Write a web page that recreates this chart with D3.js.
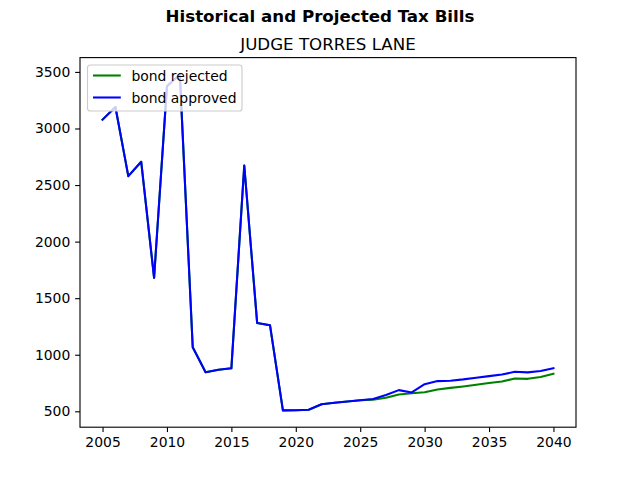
<!DOCTYPE html>
<html>
<head>
<meta charset="utf-8">
<script src="https://cdn.jsdelivr.net/npm/d3@7"></script>
<style>
  body { margin: 0; background: #fff; }
  svg { display: block; font-family: "DejaVu Sans", sans-serif; }
</style>
</head>
<body>
<svg id="chart" width="640" height="480"></svg>
<script>
const years = d3.range(2005, 2041);
const bondRejected = [3078, 3190, 2579, 2706, 1680, 3374, 3478, 1066, 845, 868, 880, 2673, 1281, 1260,
  508, 510, 514, 563, 575, 586, 598, 603, 620, 649, 659, 668, 693, 707, 720, 735, 750, 763, 790, 787, 803, 831];
const bondApproved = [3078, 3190, 2579, 2706, 1680, 3374, 3478, 1066, 845, 868, 880, 2673, 1281, 1260,
  508, 510, 514, 563, 575, 586, 598, 609, 644, 687, 667, 740, 767, 770, 782, 797, 811, 825, 849, 844, 857, 881];
const xTicks = [2005, 2010, 2015, 2020, 2025, 2030, 2035, 2040];
const yTicks = [500, 1000, 1500, 2000, 2500, 3000, 3500];
const seriesNames = ["bond rejected", "bond approved"];
const seriesColors = ["#008000", "#0000ff"];
const suptitle = "Historical and Projected Tax Bills";
const title = "JUDGE TORRES LANE";

const svg = d3.select("#chart");
const L = 80, R = 576, T = 57.6, B = 427.2;

const xmin = d3.min(years), xmax = d3.max(years);
const xpad = (xmax - xmin) * 0.05;
const allVals = bondRejected.concat(bondApproved);
const ymin = d3.min(allVals), ymax = d3.max(allVals);
const ypad = (ymax - ymin) * 0.05;

const x = d3.scaleLinear().domain([xmin - xpad, xmax + xpad]).range([L, R]);
const y = d3.scaleLinear().domain([ymin - ypad, ymax + ypad]).range([B, T]);

const series = [bondRejected, bondApproved];
const line = d3.line().x((d, i) => x(years[i])).y(d => y(d));

svg.append("clipPath").attr("id", "clip").append("rect")
  .attr("x", L).attr("y", T).attr("width", R - L).attr("height", B - T);

const plot = svg.append("g").attr("clip-path", "url(#clip)");
series.forEach((s, k) => {
  plot.append("path").datum(s).attr("d", line)
    .attr("fill", "none").attr("stroke", seriesColors[k])
    .attr("stroke-width", 2.08).attr("stroke-linejoin", "round").attr("stroke-linecap", "square");
});

// axes
const xAxis = d3.axisBottom(x).tickValues(xTicks).tickFormat(d3.format("d"))
  .tickSizeInner(4.86).tickSizeOuter(0).tickPadding(4.86);
const yAxis = d3.axisLeft(y).tickValues(yTicks).tickFormat(d3.format("d"))
  .tickSizeInner(4.86).tickSizeOuter(0).tickPadding(4.86);

const gx = svg.append("g").attr("transform", `translate(0,${B})`).call(xAxis);
const gy = svg.append("g").attr("transform", `translate(${L},0)`).call(yAxis);
[gx, gy].forEach(g => {
  g.select(".domain").remove();
  g.selectAll(".tick line").attr("stroke", "#000").attr("stroke-width", 1.11);
  g.selectAll(".tick text").attr("fill", "#000").attr("font-size", "13.9px")
    .attr("font-family", "DejaVu Sans, sans-serif");
});

// frame
svg.append("rect").attr("x", L).attr("y", T).attr("width", R - L).attr("height", B - T)
  .attr("fill", "none").attr("stroke", "#000").attr("stroke-width", 1.11);

// titles
svg.append("text").attr("x", 320).attr("y", 22).attr("text-anchor", "middle")
  .attr("font-size", "16.67px").attr("font-weight", "bold").text(suptitle);
svg.append("text").attr("x", (L + R) / 2).attr("y", 49.5).attr("text-anchor", "middle")
  .attr("font-size", "16.67px").text(title);

// legend
const lg = svg.append("g");
lg.append("rect").attr("x", 87.5).attr("y", 65).attr("width", 154.5).attr("height", 46)
  .attr("rx", 2.8).attr("fill", "#fff").attr("fill-opacity", 0.8)
  .attr("stroke", "#cccccc").attr("stroke-width", 1.11);
seriesNames.forEach((n, k) => {
  const cy = 75.5 + k * 22;
  lg.append("line").attr("x1", 93).attr("x2", 120.8).attr("y1", cy).attr("y2", cy)
    .attr("stroke", seriesColors[k]).attr("stroke-width", 2.08);
  lg.append("text").attr("x", 131.5).attr("y", cy + 5).attr("font-size", "13.9px")
    .attr("fill", "#000").text(n);
});
</script>
</body>
</html>
